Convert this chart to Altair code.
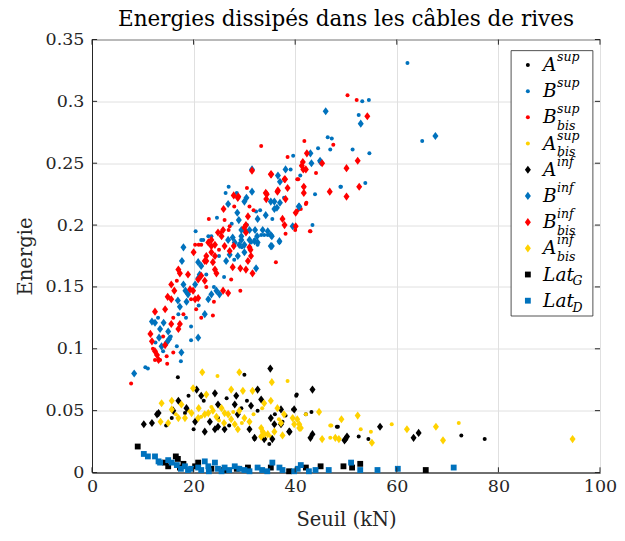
import altair as alt
import pandas as pd

# ---------------- data ----------------
a_sup_x = [48.4, 52.5, 54.4, 72.7, 77.3, 16.9, 30.0, 40.3, 43.2, 32.0, 48.2, 40.2, 39.6, 42.1, 37.5,
           38.1, 34.9, 24.8, 29.4, 32.6, 18.3, 15.7, 22.0, 26.5, 20.0, 27.0, 14.6, 36.0, 30.5, 19.0]
a_sup_y = [0.037, 0.029, 0.027, 0.030, 0.027, 0.077, 0.079, 0.063, 0.049, 0.027, 0.037, 0.062, 0.051, 0.047, 0.041,
           0.046, 0.023, 0.044, 0.052, 0.050, 0.048, 0.044, 0.058, 0.060, 0.035, 0.038, 0.038, 0.047, 0.058, 0.062]

b_sup_x = [62.1, 65.0, 53.2, 54.5, 52.5, 46.4, 47.2, 46.9, 51.3, 54.6, 53.8, 49.0, 43.9, 39.6, 39.1,
           32.3, 26.9, 26.3, 24.6, 23.5, 20.4, 21.5, 22.9, 33.1, 48.9, 43.4, 16.7, 10.5, 11.0, 21.9,
           31.3, 32.0, 32.6, 33.9, 36.9, 33.3, 34.6, 18.5, 19.5, 17.0, 21.0, 24.0, 26.0, 28.0, 29.5,
           30.5, 15.5, 14.0, 12.5, 22.5, 25.0, 27.5, 35.5, 37.8, 41.0, 44.5, 28.5, 13.0, 17.5, 19.5]
b_sup_y = [0.331, 0.268, 0.300, 0.301, 0.289, 0.271, 0.270, 0.261, 0.261, 0.258, 0.234, 0.231, 0.225, 0.256, 0.245,
           0.211, 0.231, 0.226, 0.206, 0.191, 0.195, 0.188, 0.191, 0.212, 0.231, 0.200, 0.102, 0.085, 0.084, 0.188,
           0.186, 0.188, 0.184, 0.192, 0.186, 0.192, 0.192, 0.125, 0.118, 0.128, 0.135, 0.150, 0.158, 0.172, 0.182,
           0.200, 0.110, 0.098, 0.105, 0.160, 0.175, 0.201, 0.205, 0.222, 0.240, 0.262, 0.226, 0.125, 0.090, 0.107]

bbis_sup_x = [50.3, 52.1, 33.3, 41.8, 44.1, 40.6, 41.7, 42.1, 40.5, 31.8, 31.0, 26.1, 27.1, 26.9, 25.3,
              20.3, 21.0, 21.5, 43.0, 36.2, 41.1, 40.4, 42.2, 16.7, 23.8, 29.2, 27.4, 14.7, 14.8, 7.7,
              12.4, 13.4, 38.1, 40.0, 42.9, 19.5, 20.5, 21.5, 18.0, 16.0, 22.5, 24.0, 14.0, 25.0, 28.0,
              23.0, 30.5, 38.5, 47.5, 12.0, 16.0]
bbis_sup_y = [0.305, 0.301, 0.264, 0.268, 0.242, 0.237, 0.231, 0.217, 0.212, 0.212, 0.215, 0.204, 0.199, 0.196, 0.194,
              0.184, 0.184, 0.184, 0.195, 0.170, 0.213, 0.237, 0.218, 0.155, 0.127, 0.147, 0.156, 0.094, 0.088, 0.072,
              0.091, 0.091, 0.193, 0.196, 0.195, 0.140, 0.132, 0.125, 0.128, 0.125, 0.150, 0.138, 0.110, 0.180, 0.215,
              0.205, 0.230, 0.255, 0.265, 0.100, 0.097]

abis_sup_x = [47.1, 59.0, 52.9, 54.9, 46.9, 72.2, 24.7, 38.5, 42.1, 46.9, 34.1, 35.2, 19.0, 23.5, 27.8,
              31.8, 36.8, 16.5, 29.5, 25.0, 21.5, 33.5]
abis_sup_y = [0.038, 0.039, 0.035, 0.033, 0.028, 0.040, 0.078, 0.074, 0.047, 0.038, 0.027, 0.029, 0.050, 0.053, 0.049,
              0.047, 0.043, 0.047, 0.040, 0.042, 0.045, 0.052]

a_inf_x = [56.7, 49.7, 50.2, 64.3, 63.3, 35.1, 43.4, 39.8, 10.2, 11.8, 13.1, 22.2, 38.9, 43.0, 49.9,
           12.8, 17.0, 18.6, 20.6, 21.5, 24.2, 24.8, 28.1, 28.4, 32.6, 33.3, 37.2, 31.0, 32.0, 35.9,
           38.8, 37.2, 43.4, 24.2, 26.1, 20.3, 23.2, 28.7, 31.3, 35.2, 24.8, 33.9, 35.5, 16.0]
a_inf_y = [0.037, 0.026, 0.029, 0.032, 0.028, 0.084, 0.067, 0.051, 0.039, 0.040, 0.048, 0.033, 0.033, 0.028, 0.027,
           0.047, 0.058, 0.052, 0.067, 0.062, 0.064, 0.055, 0.055, 0.062, 0.067, 0.059, 0.051, 0.035, 0.028, 0.039,
           0.033, 0.039, 0.031, 0.035, 0.035, 0.041, 0.041, 0.047, 0.054, 0.044, 0.037, 0.027, 0.027, 0.050]

b_inf_x = [67.6, 46.0, 52.9, 43.0, 43.2, 44.9, 40.7, 38.1, 37.0, 36.6, 37.0, 35.9, 30.4, 30.0, 31.5,
           31.5, 26.8, 28.6, 28.9, 29.4, 31.0, 27.7, 18.0, 36.4, 35.9, 35.2, 34.2, 35.4, 36.9, 35.4,
           34.6, 33.6, 32.6, 32.1, 32.5, 32.6, 40.8, 39.5, 45.0, 32.0, 31.0, 29.4, 29.0, 30.0, 17.7,
           20.9, 21.2, 18.0, 18.4, 18.9, 18.6, 16.9, 17.3, 14.1, 13.4, 15.0, 15.2, 13.2, 13.7, 14.7,
           11.8, 12.4, 20.9, 17.6, 8.3, 22.2, 22.9, 23.5, 24.5, 25.1, 32.3, 28.7, 30.0, 26.4, 27.1,
           21.5, 20.9, 20.3, 26.8, 28.1, 29.4, 30.0, 35.2, 35.2]
b_inf_y = [0.272, 0.292, 0.282, 0.258, 0.250, 0.252, 0.215, 0.245, 0.235, 0.240, 0.218, 0.219, 0.222, 0.219, 0.227,
           0.245, 0.217, 0.210, 0.204, 0.196, 0.196, 0.190, 0.182, 0.214, 0.213, 0.219, 0.208, 0.191, 0.187, 0.183,
           0.195, 0.196, 0.205, 0.196, 0.191, 0.186, 0.215, 0.199, 0.251, 0.187, 0.188, 0.188, 0.184, 0.184, 0.171,
           0.170, 0.160, 0.152, 0.147, 0.144, 0.138, 0.139, 0.134, 0.121, 0.116, 0.114, 0.108, 0.109, 0.102, 0.105,
           0.122, 0.121, 0.109, 0.097, 0.080, 0.128, 0.140, 0.144, 0.147, 0.144, 0.165, 0.175, 0.178, 0.171, 0.176,
           0.167, 0.157, 0.152, 0.188, 0.186, 0.191, 0.196, 0.192, 0.183]

bbis_inf_x = [54.2, 52.3, 50.1, 52.6, 50.1, 46.8, 42.3, 41.5, 41.3, 42.1, 45.3, 38.0, 38.5, 36.6, 38.1,
              35.2, 34.4, 34.3, 31.5, 28.8, 27.9, 28.7, 25.9, 30.7, 30.0, 30.3, 25.5, 24.2, 23.5, 22.5,
              24.2, 34.2, 36.5, 37.9, 35.3, 40.1, 41.7, 41.7, 41.6, 40.1, 37.5, 37.9, 31.0, 30.7, 20.0,
              18.9, 17.0, 17.3, 20.9, 21.5, 22.2, 15.6, 16.2, 19.3, 19.9, 20.3, 20.9, 14.9, 15.6, 12.4,
              14.4, 15.6, 17.3, 17.0, 11.5, 11.8, 12.8, 12.4, 13.1, 14.4, 25.8, 26.8, 27.7, 29.2, 30.3,
              31.6, 31.2, 31.3, 27.1, 27.9, 24.2, 24.5, 23.8, 22.2, 22.5, 23.5, 23.5, 22.9, 24.8, 26.1,
              25.8, 30.3]
bbis_inf_y = [0.288, 0.252, 0.246, 0.231, 0.223, 0.227, 0.258, 0.251, 0.248, 0.245, 0.250, 0.237, 0.230, 0.228, 0.221,
              0.241, 0.225, 0.221, 0.244, 0.223, 0.224, 0.222, 0.213, 0.207, 0.198, 0.194, 0.191, 0.184, 0.183, 0.171,
              0.175, 0.226, 0.227, 0.237, 0.241, 0.210, 0.226, 0.231, 0.245, 0.199, 0.205, 0.200, 0.182, 0.171, 0.178,
              0.160, 0.164, 0.161, 0.156, 0.159, 0.155, 0.152, 0.147, 0.148, 0.147, 0.140, 0.141, 0.142, 0.140, 0.130,
              0.132, 0.120, 0.120, 0.116, 0.112, 0.106, 0.095, 0.098, 0.091, 0.103, 0.147, 0.145, 0.166, 0.165, 0.164,
              0.161, 0.180, 0.175, 0.179, 0.183, 0.164, 0.161, 0.170, 0.171, 0.175, 0.178, 0.188, 0.186, 0.194, 0.183,
              0.196, 0.200]

abis_inf_x = [49.1, 52.3, 47.9, 48.6, 55.1, 62.0, 67.7, 69.1, 94.6, 21.7, 29.0, 35.4, 44.7, 13.5, 37.5,
              41.1, 40.4, 45.3, 28.7, 33.6, 33.9, 13.7, 15.7, 17.6, 15.7, 19.9, 22.5, 27.4, 29.7, 31.6,
              33.9, 35.2, 36.5, 37.8, 39.5, 40.8, 40.8, 39.8, 37.2, 35.9, 33.3, 34.6, 33.3, 20.9, 22.2,
              22.9, 26.1, 26.8, 25.5, 27.4, 30.0, 31.0, 28.1, 18.3, 19.6, 17.0, 15.0, 23.8, 24.5, 29.0,
              21.0, 26.0]
abis_inf_y = [0.043, 0.046, 0.028, 0.027, 0.024, 0.035, 0.037, 0.026, 0.027, 0.081, 0.081, 0.073, 0.049, 0.041, 0.030,
              0.036, 0.043, 0.027, 0.035, 0.033, 0.031, 0.056, 0.058, 0.055, 0.051, 0.068, 0.063, 0.067, 0.066, 0.066,
              0.056, 0.058, 0.052, 0.047, 0.044, 0.039, 0.036, 0.039, 0.040, 0.033, 0.036, 0.031, 0.029, 0.044, 0.047,
              0.048, 0.048, 0.047, 0.052, 0.043, 0.044, 0.041, 0.039, 0.044, 0.048, 0.044, 0.040, 0.050, 0.045, 0.050,
              0.052, 0.040]

lat_g_x = [9.0, 16.5, 16.9, 14.4, 15.0, 17.3, 20.9, 20.3, 23.5, 30.7, 35.2, 38.8, 42.1, 45.0, 49.5,
           51.2, 52.8, 65.7, 18.0, 26.0, 28.5]
lat_g_y = [0.021, 0.013, 0.011, 0.008, 0.005, 0.004, 0.008, 0.005, 0.003, 0.004, 0.004, 0.001, 0.004, 0.005, 0.005,
           0.004, 0.007, 0.002, 0.007, 0.002, 0.003]

lat_d_x = [10.2, 12.4, 13.1, 13.4, 15.7, 16.7, 18.3, 18.9, 20.9, 22.2, 22.9, 24.2, 26.1, 28.1, 30.0,
           32.6, 35.5, 36.9, 39.8, 41.1, 42.7, 46.6, 51.0, 52.8, 56.2, 60.2, 71.2, 19.5, 21.5, 23.0,
           24.8, 25.5, 27.0, 29.0, 31.0, 33.5, 34.5, 37.5, 40.5, 44.0, 15.0, 17.5, 11.0]
lat_d_y = [0.015, 0.013, 0.009, 0.008, 0.008, 0.006, 0.005, 0.002, 0.004, 0.009, 0.005, 0.008, 0.004, 0.005, 0.002,
           0.004, 0.008, 0.004, 0.001, 0.006, 0.001, 0.002, 0.008, 0.002, 0.002, 0.003, 0.004, 0.003, 0.002, 0.001,
           0.003, 0.001, 0.002, 0.003, 0.001, 0.002, 0.001, 0.002, 0.003, 0.002, 0.010, 0.003, 0.013]

series_keys = ["A_sup", "B_sup", "Bbis_sup", "Abis_sup",
               "A_inf", "B_inf", "Bbis_inf", "Abis_inf", "LatG", "LatD"]
series_x = [a_sup_x, b_sup_x, bbis_sup_x, abis_sup_x, a_inf_x, b_inf_x, bbis_inf_x, abis_inf_x, lat_g_x, lat_d_x]
series_y = [a_sup_y, b_sup_y, bbis_sup_y, abis_sup_y, a_inf_y, b_inf_y, bbis_inf_y, abis_inf_y, lat_g_y, lat_d_y]
marker_kind = ["dot"] * 4 + ["diamond"] * 4 + ["square"] * 2

legend_main = ["A", "B", "B", "A", "A", "B", "B", "A", "Lat", "Lat"]
legend_sup = ["sup", "sup", "sup", "sup", "inf", "inf", "inf", "inf", "", ""]
legend_sub = ["", "", "bis", "bis", "", "", "bis", "bis", "G", "D"]

x_ticks = [0, 20, 40, 60, 80, 100]
y_ticks = [0, 0.05, 0.1, 0.15, 0.2, 0.25, 0.3, 0.35]

# ---------------- styles ----------------
series_colors = ["#000000", "#0072BD", "#FF0000", "#FFD200",
                 "#000000", "#0072BD", "#FF0000", "#FFD200", "#000000", "#0072BD"]
DIAMOND = "M0,-1.15L0.85,0L0,1.15L-0.85,0Z"
FONT = "DejaVu Serif"
AX = "#262626"
DOT_SIZE = 16
DIAMOND_SIZE = 50
SQUARE_SIZE = 34

frames = []
for key, xs, ys, kind in zip(series_keys, series_x, series_y, marker_kind):
    frames.append(pd.DataFrame({"x": xs, "y": ys, "series": key, "kind": kind}))
df = pd.concat(frames, ignore_index=True)
df["order"] = range(len(df))

xscale = alt.Scale(domain=[0, 100], nice=False, zero=False)
yscale = alt.Scale(domain=[0, 0.35], nice=False, zero=False)
xaxis = alt.Axis(values=x_ticks, grid=True, labelPadding=5, titlePadding=15, format="d", labelFlush=False,
                 labelFont=FONT, labelFontSize=17.5, titleFont=FONT, titleFontSize=19.5)
yaxis = alt.Axis(values=y_ticks, grid=True, labelPadding=8, titlePadding=10, format=".2~f", labelFlush=False,
                 labelFont=FONT, labelFontSize=17.5, titleFont=FONT, titleFontSize=19.5)
cscale = alt.Scale(domain=series_keys, range=series_colors)


def X(field="x"):
    return alt.X(f"{field}:Q", scale=xscale, axis=xaxis, title="Seuil (kN)")


def Y(field="y"):
    return alt.Y(f"{field}:Q", scale=yscale, axis=yaxis, title="Energie")


color = alt.Color("series:N", scale=cscale, legend=None)

base = alt.Chart(df)
dots = base.transform_filter(alt.datum.kind == "dot").mark_circle(size=DOT_SIZE, opacity=1).encode(
    x=X(), y=Y(), color=color, order=alt.Order("order:Q"))
diamonds = base.transform_filter(alt.datum.kind == "diamond").mark_point(
    shape=DIAMOND, filled=True, size=DIAMOND_SIZE, opacity=1, strokeWidth=0).encode(
    x=X(), y=Y(), color=color, order=alt.Order("order:Q"))
squares = base.transform_filter(alt.datum.kind == "square").mark_square(
    size=SQUARE_SIZE, opacity=1, strokeWidth=0).encode(
    x=X(), y=Y(), color=color, order=alt.Order("order:Q"))

# inward ticks (MATLAB style)
tl_x = 1.0      # tick length in x data units
tl_y = 0.0042   # tick length in y data units
xt = pd.DataFrame({"x": x_ticks})
yt = pd.DataFrame({"y": y_ticks})
tick_bottom = alt.Chart(xt).transform_calculate(y="0", y2=f"{tl_y}").mark_rule(color=AX, strokeWidth=1).encode(
    x=X(), y=Y(), y2="y2:Q")
tick_top = alt.Chart(xt).transform_calculate(y="0.35", y2=f"{0.35 - tl_y}").mark_rule(color=AX, strokeWidth=1).encode(
    x=X(), y=Y(), y2="y2:Q")
tick_left = alt.Chart(yt).transform_calculate(x="0", x2=f"{tl_x}").mark_rule(color=AX, strokeWidth=1).encode(
    x=X(), x2="x2:Q", y=Y())
tick_right = alt.Chart(yt).transform_calculate(x="100", x2=f"{100 - tl_x}").mark_rule(color=AX, strokeWidth=1).encode(
    x=X(), x2="x2:Q", y=Y())

# ---------------- legend (manual, for super/subscripts) ----------------
row_top = 0.3294
row_step = 0.02117
mk_x = 85.8
txt_x = 88.8
lg = pd.DataFrame({
    "series": series_keys,
    "kind": marker_kind,
    "main": legend_main,
    "sup": legend_sup,
    "sub": legend_sub,
})
lg["y"] = [row_top - i * row_step for i in range(len(lg))]
lg["mx"] = mk_x
lg["x"] = txt_x
lg["sx"] = [txt_x + (5.8 if m == "Lat" else 2.75) for m in legend_main]
lg["sup_y"] = lg["y"] + 0.0064
lg["sub_y"] = [y - (0.0070 if s == "bis" else 0.0055) for y, s in zip(lg["y"], legend_sub)]

box_df = pd.DataFrame({"x": [82.5], "x2": [98.6], "y": [0.3410], "y2": [0.1265]})
box = alt.Chart(box_df).mark_rect(fill="white", stroke=AX, strokeWidth=0.8).encode(
    x=X(), x2="x2:Q", y=Y(), y2="y2:Q")

lbase = alt.Chart(lg)
lg_dots = lbase.transform_filter(alt.datum.kind == "dot").mark_circle(size=DOT_SIZE, opacity=1).encode(
    x=X("mx"), y=Y(), color=color)
lg_diam = lbase.transform_filter(alt.datum.kind == "diamond").mark_point(
    shape=DIAMOND, filled=True, size=DIAMOND_SIZE, opacity=1, strokeWidth=0).encode(
    x=X("mx"), y=Y(), color=color)
lg_sq = lbase.transform_filter(alt.datum.kind == "square").mark_square(
    size=SQUARE_SIZE, opacity=1, strokeWidth=0).encode(x=X("mx"), y=Y(), color=color)
lg_main = lbase.mark_text(align="left", baseline="middle", font=FONT, fontStyle="italic",
                          fontSize=18.5, color="#000000").encode(x=X(), y=Y(), text="main:N")
lg_sup = lbase.mark_text(align="left", baseline="middle", font=FONT, fontStyle="italic",
                         fontSize=12.5, color="#000000").encode(x=X("sx"), y=Y("sup_y"), text="sup:N")
lg_sub = lbase.mark_text(align="left", baseline="middle", font=FONT, fontStyle="italic",
                         fontSize=12.5, color="#000000").encode(x=X("sx"), y=Y("sub_y"), text="sub:N")

chart = alt.layer(
    dots, diamonds, squares,
    tick_bottom, tick_top, tick_left, tick_right,
    box, lg_dots, lg_diam, lg_sq, lg_main, lg_sup, lg_sub,
).properties(
    width=508,
    height=433,
    autosize=alt.AutoSizeParams(type="none"),
    padding={"left": 84, "top": 31.5, "right": 17, "bottom": 60},
    title=alt.TitleParams("Energies dissipés dans les câbles de rives", font=FONT, fontSize=21.5,
                          fontWeight="normal", color="#000000", offset=0, anchor="middle"),
).configure_axis(
    gridColor="#E0E0E0", gridWidth=1, domainColor=AX, domainWidth=1, tickSize=0,
    labelFont=FONT, labelFontSize=17.5, labelColor=AX,
    titleFont=FONT, titleFontSize=19.5, titleFontWeight="normal", titleColor=AX,
).configure_view(
    stroke=AX, strokeWidth=1,
)

chart.save("out.html", embed_options={"renderer": "svg", "actions": False})
